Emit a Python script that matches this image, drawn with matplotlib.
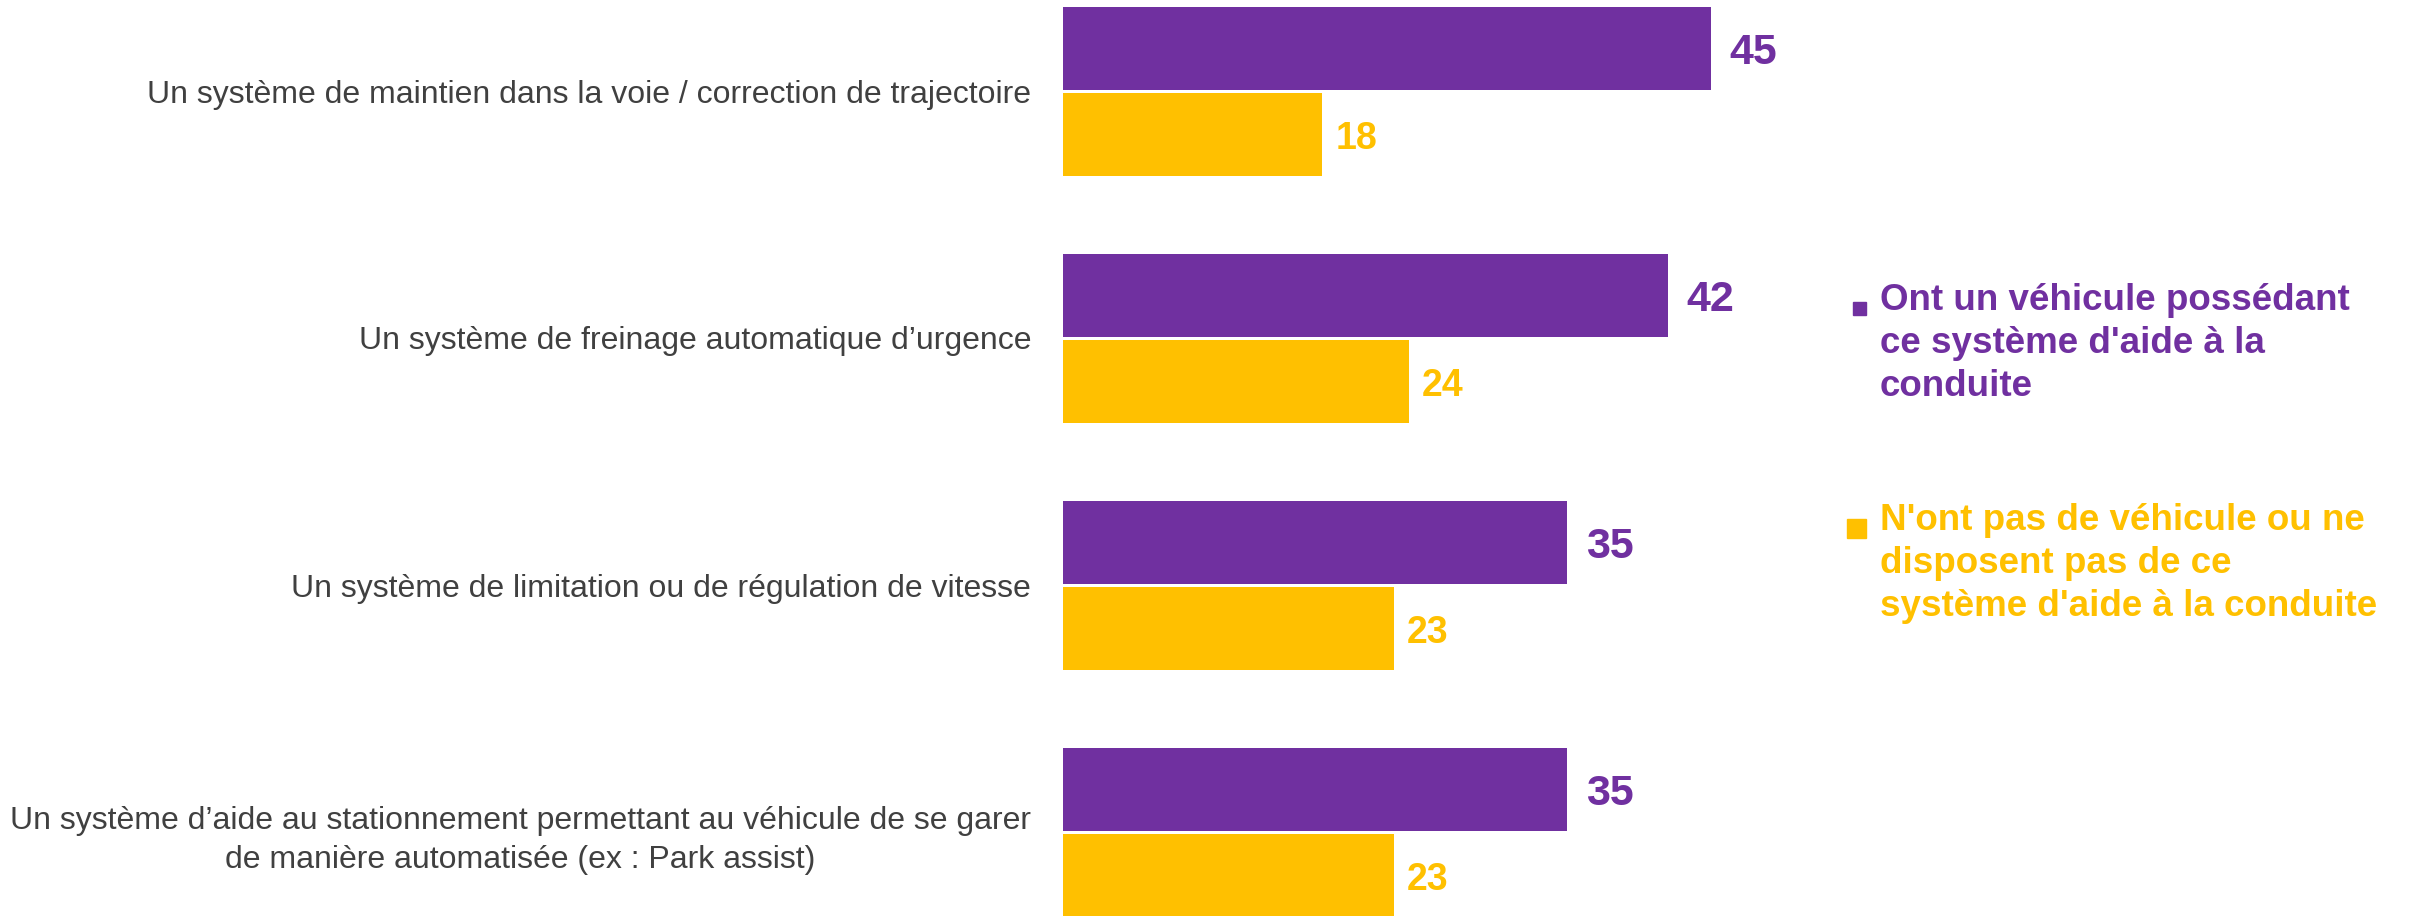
import matplotlib.pyplot as plt
from matplotlib.patches import Rectangle

categories = [
    "Un système de maintien dans la voie / correction de trajectoire",
    "Un système de freinage automatique d\u2019urgence",
    "Un système de limitation ou de régulation de vitesse",
    "Un système d\u2019aide au stationnement permettant au véhicule de se garer\nde manière automatisée (ex : Park assist)",
]
with_system = [45, 42, 35, 35]
without_system = [18, 24, 23, 23]
series_labels = [
    "Ont un véhicule possédant\nce système d'aide à la\nconduite",
    "N'ont pas de véhicule ou ne\ndisposent pas de ce\nsystème d'aide à la conduite",
]

PURPLE = "#7030A0"
YELLOW = "#FFC000"
GREY = "#404040"

plt.rcParams["font.family"] = ["Liberation Sans", "DejaVu Sans"]

W, H = 2412, 916
fig = plt.figure(figsize=(W / 100, H / 100), dpi=100)
ax_left = 1063 / W
ax = fig.add_axes([ax_left, 0, 1 - ax_left, 1])

px_per_unit = 14.4
ax.set_xlim(0, (W - 1063) / px_per_unit)
ax.set_ylim((H - 91) / 247, -91 / 247)

h = 0.335
ypos = list(range(len(categories)))
y_with = [y - h / 2 - 0.005 for y in ypos]
y_without = [y + h / 2 + 0.008 for y in ypos]
ax.barh(y_with, with_system, height=h, color=PURPLE)
ax.barh(y_without, without_system, height=h, color=YELLOW)

for y, v in zip(y_with, with_system):
    ax.text(v + 1.3, y + 0.02, str(v), color=PURPLE, fontsize=31, fontweight="bold",
            va="center", ha="left")
for y, v in zip(y_without, without_system):
    ax.text(v + 0.9, y + 0.02, str(v), color=YELLOW, fontsize=27, fontweight="bold",
            va="center", ha="left")

ax.set_yticks(ypos)
ax.set_yticklabels(categories, fontsize=23, color=GREY)
for t in ax.get_yticklabels():
    t.set_multialignment("center")
    t.set_linespacing(1.4)
ax.tick_params(axis="y", length=0, pad=23)
ax.set_xticks([])
for s in ax.spines.values():
    s.set_visible(False)

# legend drawn by hand on the right
legend_items = [(PURPLE, 308, 13), (YELLOW, 528, 19)]
for (color, yc, sq), label in zip(legend_items, series_labels):
    fig.add_artist(Rectangle(((1866 - sq) / W, 1 - (yc + sq / 2) / H), sq / W, sq / H,
                             transform=fig.transFigure, color=color))
    fig.text(1880 / W, 1 - (yc - 25) / H, label, color=color, fontsize=26.5,
             fontweight="bold", va="top", ha="left", linespacing=1.3)

fig.savefig("out.png", dpi=100)
